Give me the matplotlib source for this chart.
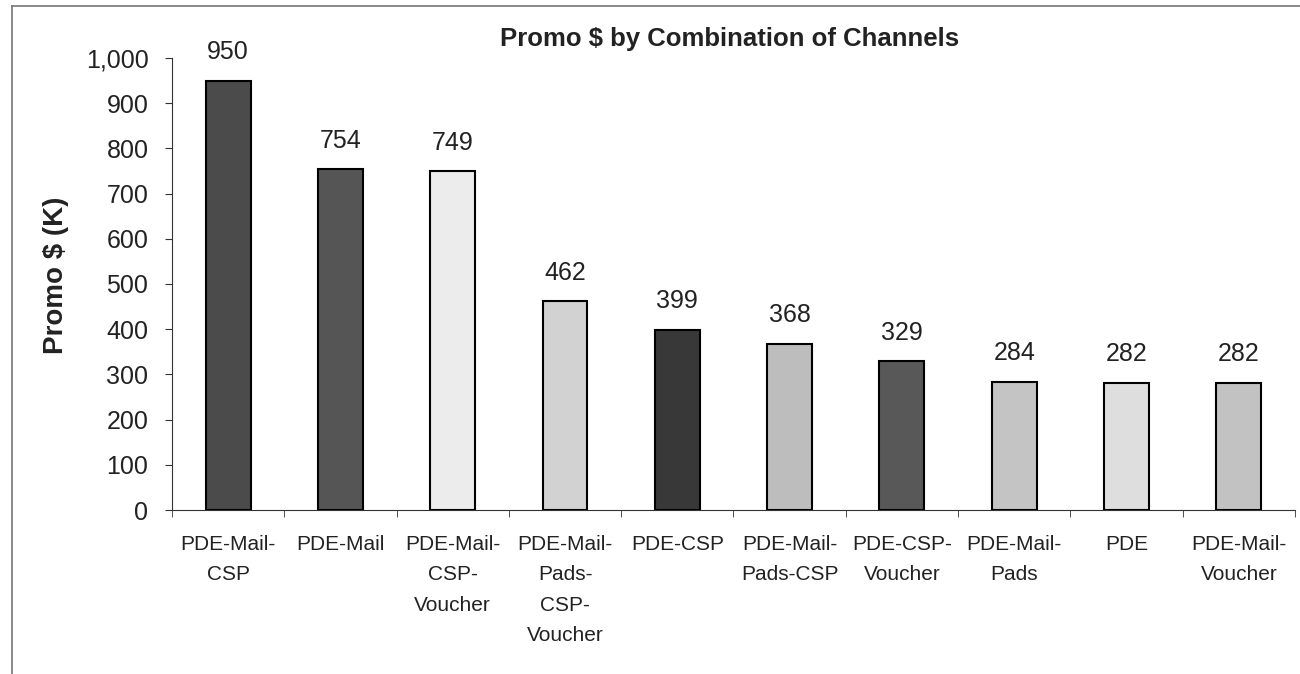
import numpy as np
import matplotlib
matplotlib.use("Agg")
import matplotlib.pyplot as plt
from matplotlib.lines import Line2D

plt.rcParams['font.family'] = ['Liberation Sans', 'DejaVu Sans']

categories = ['PDE-Mail-\nCSP', 'PDE-Mail', 'PDE-Mail-\nCSP-\nVoucher',
              'PDE-Mail-\nPads-\nCSP-\nVoucher', 'PDE-CSP', 'PDE-Mail-\nPads-CSP',
              'PDE-CSP-\nVoucher', 'PDE-Mail-\nPads', 'PDE', 'PDE-Mail-\nVoucher']
promo = [950, 754, 749, 462, 399, 368, 329, 284, 282, 282]
bar_colors = ['#4b4b4b', '#555555', '#ececec', '#d2d2d2', '#383838',
              '#bdbdbd', '#585858', '#c4c4c4', '#dedede', '#c2c2c2']
yticks = [0, 100, 200, 300, 400, 500, 600, 700, 800, 900, 1000]

fig = plt.figure(figsize=(13, 6.74), dpi=100)
ax = fig.add_axes([0.1323, 0.2433, 0.8638, 0.6707])

x = np.arange(len(categories))
ax.bar(x, promo, width=0.4, color=bar_colors, edgecolor='black', linewidth=1.5)

for xi, v in zip(x, promo):
    ax.annotate(str(v), (xi, v), xytext=(0, 12), textcoords='offset points',
                ha='center', va='bottom', fontsize=18, color='#222222')

ax.set_xlim(-0.5, len(categories) - 0.5)
ax.set_ylim(0, 1000)
ax.set_yticks(yticks)
ax.set_yticklabels([f'{t:,}' for t in yticks], fontsize=18, color='#222222')
ax.set_xticks(x)
ax.set_xticklabels(categories, fontsize=15, color='#222222', linespacing=1.75, va='top')
ax.set_xticks(np.arange(len(categories) + 1) - 0.5, minor=True)
ax.tick_params(axis='x', which='major', length=0, pad=18)
ax.tick_params(axis='x', which='minor', length=5, direction='out', color='#333333')
ax.tick_params(axis='y', length=5, direction='out', pad=12, color='#333333')

for s in ['top', 'right']:
    ax.spines[s].set_visible(False)
ax.spines['left'].set_color('#333333')
ax.spines['bottom'].set_color('#333333')

ax.set_ylabel('Promo $ (K)', fontsize=20, fontweight='bold', color='#222222')
ax.yaxis.set_label_coords(-0.092, 0.52)
fig.text(0.561, 0.942, 'Promo $ by Combination of Channels', ha='center', va='center',
         fontsize=18.5, fontweight='bold', color='#222222')

# outer frame (left and top edges)
fig.add_artist(Line2D([12 / 1300, 12 / 1300], [0, 1 - 6 / 674], transform=fig.transFigure,
                      color='#777777', lw=1.2))
fig.add_artist(Line2D([12 / 1300, 1], [1 - 6 / 674, 1 - 6 / 674], transform=fig.transFigure,
                      color='#777777', lw=1.2))

fig.savefig('out.png', dpi=100)
